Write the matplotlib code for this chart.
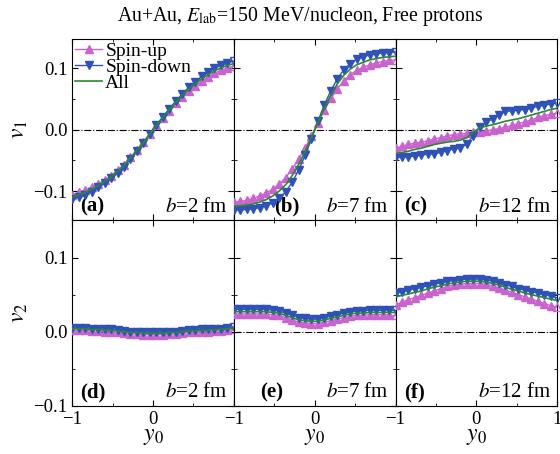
import matplotlib
matplotlib.use('Agg')
import matplotlib.pyplot as plt

plt.rcParams['font.family'] = ['Liberation Serif', 'DejaVu Serif']
plt.rcParams['mathtext.fontset'] = 'stix'
plt.rcParams['font.size'] = 13

# rapidity grid
y0 = [-1.00, -0.92, -0.84, -0.76, -0.68, -0.60, -0.52, -0.44, -0.36, -0.28, -0.20, -0.12, -0.04,
      0.04, 0.12, 0.20, 0.28, 0.36, 0.44, 0.52, 0.60, 0.68, 0.76, 0.84, 0.92, 1.00]

# v1, b = 2 fm
up_a = [-0.106, -0.102, -0.098, -0.094, -0.088, -0.082, -0.075, -0.066, -0.057, -0.045, -0.033, -0.020, -0.007,
        0.007, 0.019, 0.031, 0.043, 0.054, 0.063, 0.072, 0.079, 0.086, 0.092, 0.097, 0.101, 0.104]
down_a = [-0.113, -0.110, -0.106, -0.101, -0.094, -0.087, -0.079, -0.070, -0.060, -0.048, -0.035, -0.022, -0.007,
          0.008, 0.021, 0.034, 0.047, 0.058, 0.069, 0.078, 0.087, 0.094, 0.100, 0.105, 0.109, 0.112]
all_a = [-0.110, -0.106, -0.102, -0.097, -0.091, -0.084, -0.077, -0.068, -0.058, -0.046, -0.034, -0.021, -0.007,
         0.007, 0.020, 0.033, 0.045, 0.056, 0.066, 0.075, 0.083, 0.090, 0.096, 0.101, 0.105, 0.108]

# v1, b = 7 fm
up_b = [-0.118, -0.117, -0.115, -0.112, -0.108, -0.103, -0.097, -0.089, -0.078, -0.064, -0.048, -0.030, -0.010,
        0.011, 0.032, 0.051, 0.067, 0.080, 0.090, 0.097, 0.102, 0.106, 0.109, 0.111, 0.113, 0.114]
down_b = [-0.131, -0.131, -0.130, -0.129, -0.127, -0.124, -0.119, -0.112, -0.101, -0.086, -0.066, -0.042, -0.015,
          0.014, 0.041, 0.064, 0.083, 0.098, 0.108, 0.115, 0.119, 0.122, 0.124, 0.125, 0.126, 0.127]
all_b = [-0.125, -0.124, -0.123, -0.121, -0.118, -0.114, -0.108, -0.100, -0.090, -0.075, -0.057, -0.036, -0.012,
         0.012, 0.036, 0.057, 0.075, 0.089, 0.099, 0.106, 0.110, 0.114, 0.116, 0.118, 0.119, 0.120]

# v1, b = 12 fm
up_c = [-0.030, -0.027, -0.024, -0.022, -0.020, -0.018, -0.015, -0.013, -0.010, -0.008, -0.007, -0.006, -0.003,
        -0.003, -0.002, 0.000, 0.002, 0.004, 0.007, 0.010, 0.013, 0.016, 0.020, 0.023, 0.025, 0.027]
down_c = [-0.045, -0.045, -0.044, -0.043, -0.041, -0.040, -0.039, -0.037, -0.034, -0.031, -0.029, -0.024, -0.010,
          0.004, 0.012, 0.018, 0.024, 0.030, 0.031, 0.032, 0.033, 0.036, 0.038, 0.040, 0.042, 0.044]
all_c = [-0.039, -0.037, -0.035, -0.032, -0.030, -0.027, -0.024, -0.022, -0.020, -0.019, -0.017, -0.013, -0.004,
         0.003, 0.006, 0.008, 0.011, 0.014, 0.016, 0.018, 0.021, 0.024, 0.027, 0.030, 0.033, 0.035]

# v2, b = 2 fm
up_d = [0.002, 0.002, 0.002, 0.001, 0.001, 0.000, 0.000, -0.001, -0.002, -0.003, -0.003, -0.004, -0.004,
        -0.004, -0.004, -0.003, -0.003, -0.002, -0.001, -0.001, 0.000, 0.000, 0.001, 0.001, 0.002, 0.003]
down_d = [0.005, 0.005, 0.005, 0.004, 0.004, 0.003, 0.003, 0.002, 0.001, 0.000, 0.000, -0.001, -0.001,
          -0.001, -0.001, 0.000, 0.000, 0.001, 0.002, 0.002, 0.003, 0.003, 0.004, 0.004, 0.005, 0.006]
all_d = [0.004, 0.004, 0.004, 0.003, 0.003, 0.002, 0.002, 0.001, 0.000, -0.001, -0.001, -0.002, -0.002,
         -0.002, -0.002, -0.001, -0.001, 0.000, 0.001, 0.001, 0.002, 0.002, 0.003, 0.003, 0.004, 0.005]

# v2, b = 7 fm
up_e = [0.024, 0.024, 0.024, 0.024, 0.024, 0.024, 0.023, 0.022, 0.019, 0.016, 0.013, 0.012, 0.011,
        0.011, 0.013, 0.015, 0.017, 0.019, 0.021, 0.022, 0.022, 0.023, 0.023, 0.023, 0.023, 0.023]
down_e = [0.030, 0.030, 0.030, 0.030, 0.030, 0.030, 0.029, 0.028, 0.025, 0.022, 0.019, 0.018, 0.017,
          0.017, 0.019, 0.021, 0.023, 0.025, 0.027, 0.028, 0.028, 0.029, 0.029, 0.029, 0.029, 0.029]
all_e = [0.027, 0.027, 0.027, 0.027, 0.027, 0.027, 0.026, 0.025, 0.022, 0.019, 0.016, 0.015, 0.014,
         0.014, 0.016, 0.018, 0.020, 0.022, 0.024, 0.025, 0.025, 0.026, 0.026, 0.026, 0.026, 0.026]

# v2, b = 12 fm
up_f = [0.036, 0.040, 0.043, 0.046, 0.049, 0.052, 0.055, 0.058, 0.061, 0.063, 0.064, 0.065, 0.065,
        0.065, 0.064, 0.062, 0.059, 0.056, 0.053, 0.050, 0.047, 0.044, 0.041, 0.038, 0.035, 0.033]
down_f = [0.052, 0.054, 0.056, 0.058, 0.060, 0.062, 0.064, 0.066, 0.068, 0.069, 0.070, 0.071, 0.071,
          0.071, 0.070, 0.068, 0.066, 0.063, 0.061, 0.058, 0.056, 0.054, 0.052, 0.050, 0.048, 0.046]
all_f = [0.047, 0.049, 0.051, 0.053, 0.055, 0.058, 0.060, 0.062, 0.064, 0.066, 0.067, 0.068, 0.068,
         0.068, 0.067, 0.065, 0.063, 0.060, 0.057, 0.055, 0.052, 0.050, 0.048, 0.046, 0.044, 0.042]

panels = [
    [(up_a, down_a, all_a, '(a)', '2'), (up_b, down_b, all_b, '(b)', '7'), (up_c, down_c, all_c, '(c)', '12')],
    [(up_d, down_d, all_d, '(d)', '2'), (up_e, down_e, all_e, '(e)', '7'), (up_f, down_f, all_f, '(f)', '12')],
]
# where the panel letter sits (axes fraction)
lab_x = [[0.05, 0.25, 0.05], [0.05, 0.16, 0.05]]

c_up = '#c964cf'
c_down = '#2f52b8'
c_all = '#2a8a2e'
ms = 6

fig = plt.figure(figsize=(5.6, 4.54), dpi=100)
gs = fig.add_gridspec(2, 3, left=0.129, right=0.995, top=0.914, bottom=0.106,
                      wspace=0, hspace=0, height_ratios=[182, 186])

for r in range(2):
    for c in range(3):
        ax = fig.add_subplot(gs[r, c])
        up, down, tot, lab, b = panels[r][c]
        ax.axhline(0, color='k', lw=0.8, ls='-.', zorder=1)
        ax.plot(y0[:-1], up[:-1], '-^', color=c_up, ms=ms, lw=1, label='Spin-up', zorder=3)
        ax.plot(y0[:-1], down[:-1], '-v', color=c_down, ms=ms, lw=1, label='Spin-down', zorder=4)
        ax.plot(y0[-2:], up[-2:], '-', color=c_up, lw=1, zorder=3)
        ax.plot(y0[-2:], down[-2:], '-', color=c_down, lw=1, zorder=4)
        ax.plot(y0[-1:], up[-1:], '^', mfc='none', mec=c_up, ms=ms, clip_on=False, zorder=5)
        ax.plot(y0[-1:], down[-1:], 'v', mfc='none', mec=c_down, ms=ms, clip_on=False, zorder=5)
        ax.plot(y0, tot, '-', color=c_all, lw=1.2, label='All', zorder=6)
        ax.set_xlim(-1, 1)
        if r == 0:
            ax.set_ylim(-0.148, 0.148)
        else:
            ax.set_ylim(-0.1, 0.15)
        ax.set_yticks([-0.1, 0.0, 0.1])
        ax.set_yticks([-0.05, 0.05], minor=True)
        ax.set_xticks([-1, 0, 1])
        ax.set_xticks([-0.5, 0.5], minor=True)
        ax.tick_params(which='both', direction='in', top=True, right=True, labelsize=13.5)
        ax.tick_params(which='major', length=4)
        ax.tick_params(which='minor', length=2)
        if c == 0:
            ax.set_yticklabels(['\u22120.1', '0.0', '0.1'])
        else:
            ax.set_yticklabels([])
        if r == 1:
            if c == 2:
                ax.set_xticklabels(['\u22121', '0', '1'])
            else:
                ax.set_xticklabels(['\u22121', '0', ''])
            ax.set_xlabel('$y_0$', fontsize=17, labelpad=-1)
        else:
            ax.set_xticklabels([])
        ax.text(lab_x[r][c], 0.02, lab, transform=ax.transAxes, fontweight='bold', fontsize=15,
                ha='left', va='bottom')
        ax.text(0.96, 0.02, '$b$=' + b + ' fm', transform=ax.transAxes, fontsize=15,
                ha='right', va='bottom')
        if r == 0 and c == 0:
            ax.set_ylabel('$v_1$', fontsize=17, labelpad=2)
            ax.legend(loc='upper left', frameon=False, fontsize=14, handlelength=1.4,
                      handletextpad=0.15, labelspacing=-0.08, borderpad=0.05, borderaxespad=0.1)
        if r == 1 and c == 0:
            ax.set_ylabel('$v_2$', fontsize=17, labelpad=2)

fig.suptitle('Au+Au, $E_{\\rm lab}$=150 MeV/nucleon, Free protons', x=0.535, y=0.99, fontsize=14.3)
fig.savefig('out.png', dpi=100)
